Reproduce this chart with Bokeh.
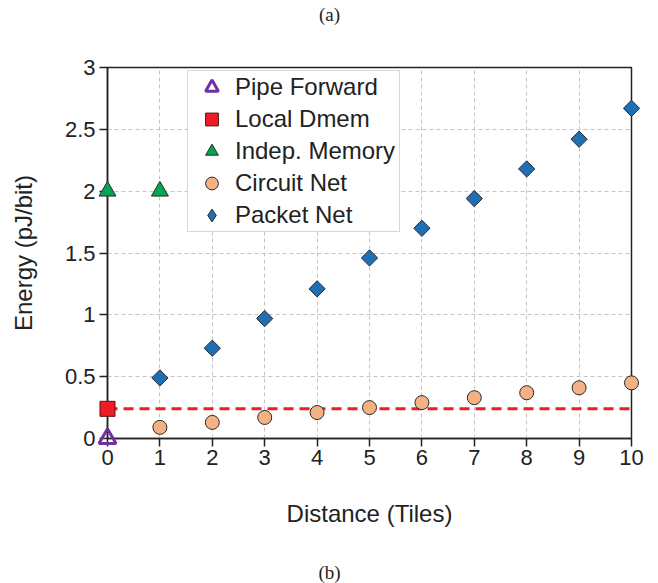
import numpy as np
from bokeh.plotting import figure
from bokeh.models import Range1d, Legend, LegendItem, Label, FixedTicker
from bokeh.embed import file_html
from bokeh.resources import INLINE

# ---- data ----
distance = [1, 2, 3, 4, 5, 6, 7, 8, 9, 10]
packet_net = [0.49, 0.73, 0.97, 1.21, 1.46, 1.70, 1.94, 2.18, 2.42, 2.67]
circuit_net = [0.09, 0.13, 0.17, 0.21, 0.25, 0.29, 0.33, 0.37, 0.41, 0.45]
indep_x = [0, 1]
indep_mem = [2.0, 2.0]
local_x = [0]
local_dmem = [0.24]
pipe_x = [0]
pipe_fwd = [0.0]
dmem_line_x = [0, 10]
dmem_line_y = [0.24, 0.24]
x_ticks = [0, 1, 2, 3, 4, 5, 6, 7, 8, 9, 10]
y_ticks = [0, 0.5, 1, 1.5, 2, 2.5, 3]

FONT = "Liberation Sans"

p = figure(width=658, height=583, output_backend="svg", toolbar_location=None,
           x_range=Range1d(0, 10), y_range=Range1d(0, 3),
           min_border_left=107, min_border_right=27, min_border_top=67, min_border_bottom=145)
p.background_fill_color = "white"
p.border_fill_color = "white"
p.outline_line_color = "#222222"
p.outline_line_width = 1.5

# grid
for g in (p.xgrid[0], p.ygrid[0]):
    g.grid_line_color = "#c4c4c4"
    g.grid_line_dash = "4 3"
    g.grid_line_width = 1
p.xgrid.ticker = FixedTicker(ticks=x_ticks)
p.ygrid.ticker = FixedTicker(ticks=y_ticks)

# axes
p.xaxis.ticker = FixedTicker(ticks=x_ticks)
p.yaxis.ticker = FixedTicker(ticks=y_ticks)
for ax in (p.xaxis[0], p.yaxis[0]):
    ax.axis_line_color = "#222222"
    ax.axis_line_width = 1.5
    ax.major_tick_line_color = "#222222"
    ax.major_tick_line_width = 1.5
    ax.major_tick_out = 8
    ax.major_tick_in = 0
    ax.minor_tick_line_color = None
    ax.major_label_text_font = FONT
    ax.major_label_text_font_size = "22px"
    ax.major_label_text_color = "#222222"
    ax.axis_label_text_font = FONT
    ax.axis_label_text_font_size = "24px"
    ax.axis_label_text_font_style = "normal"
    ax.axis_label_text_color = "#222222"
p.xaxis.axis_label = "Distance (Tiles)"
p.yaxis.axis_label = "Energy (pJ/bit)"
p.yaxis.major_label_standoff = 4
p.xaxis.major_label_standoff = 3
p.yaxis.axis_label_standoff = 25
p.xaxis.axis_label_standoff = 32

# legend key glyph for Packet Net (diamond), drawn underneath the plotted markers
r_pkt_key = p.scatter(distance, packet_net, marker="diamond", size=12,
                      fill_color="#1f6fb7", line_color="#2a2a2a", line_width=1)

# data renderers
dl = p.line(dmem_line_x, dmem_line_y, line_color="#ee1c25", line_width=3, line_dash="10 6")
r_pkt = p.scatter(distance, packet_net, marker="square", angle=np.pi / 4, size=11.5,
                  fill_color="#1f6fb7", line_color="#2a2a2a", line_width=1)
r_cir = p.scatter(distance, circuit_net, marker="circle", size=14,
                  fill_color="#f4b183", line_color="#2a2a2a", line_width=1)
r_ind = p.scatter(indep_x, indep_mem, marker="triangle", size=17,
                  fill_color="#00a651", line_color="#2a2a2a", line_width=1)
r_loc = p.scatter(local_x, local_dmem, marker="square", size=15,
                  fill_color="#ee1c25", line_color="#5a1010", line_width=1)
r_pipe = p.scatter(pipe_x, pipe_fwd, marker="triangle", size=17,
                   fill_color=None, line_color="#7030a0", line_width=3)
for r in (dl, r_pkt, r_cir, r_ind, r_loc, r_pipe):
    r.level = "overlay"

legend = Legend(items=[
    LegendItem(label="Pipe Forward", renderers=[r_pipe]),
    LegendItem(label="Local Dmem", renderers=[r_loc]),
    LegendItem(label="Indep. Memory", renderers=[r_ind]),
    LegendItem(label="Circuit Net", renderers=[r_cir]),
    LegendItem(label="Packet Net", renderers=[r_pkt_key]),
], location=(80, 206))
legend.label_text_font = FONT
legend.label_text_font_size = "24px"
legend.label_text_color = "#222222"
legend.glyph_width = 47
legend.glyph_height = 32
legend.label_height = 32
legend.label_standoff = 0
legend.label_width = 164
legend.spacing = 0
legend.padding = 0
legend.margin = 0
legend.border_line_color = "#b0b0b0"
legend.border_line_width = 1
legend.background_fill_color = "white"
legend.background_fill_alpha = 1
p.add_layout(legend)

for txt, yy, side in (("(a)", 14, "above"), ("(b)", 572, "below")):
    lab = Label(x=329, y=yy, x_units="canvas", y_units="canvas", text=txt,
                text_align="center", text_baseline="middle",
                text_font="Liberation Serif", text_font_size="19px", text_color="#222222")
    p.add_layout(lab, side)

open("out.html", "w").write(file_html(p, INLINE))
